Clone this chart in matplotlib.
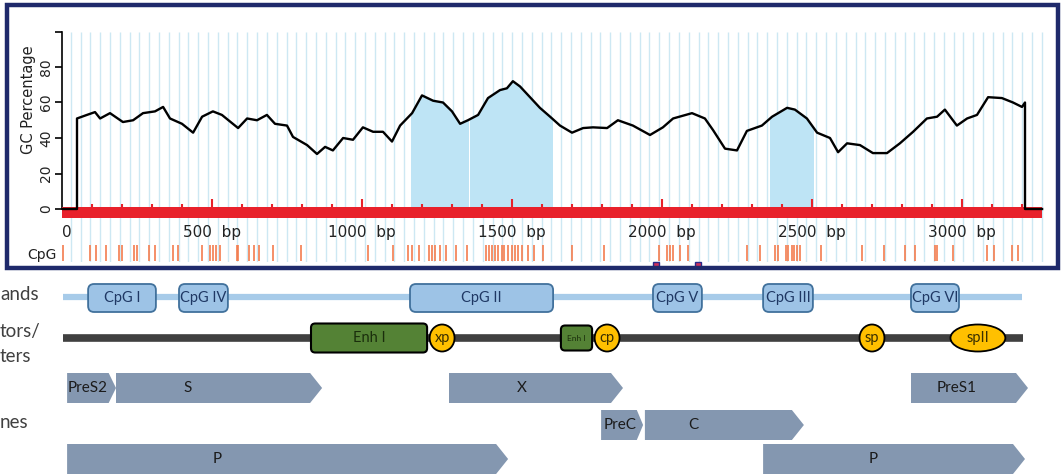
import matplotlib
matplotlib.use("Agg")
import matplotlib.pyplot as plt
import numpy as np
from matplotlib.patches import Rectangle, Polygon, Ellipse, FancyBboxPatch

# GC profile: (position bp, GC %)
gc_profile = [
    (0, 0), (50, 0), (50, 51), (83, 53), (110, 54.6), (127, 51), (160, 54), (203, 49),
    (237, 50), (270, 54), (310, 55), (337, 57.5), (360, 51), (400, 48), (437, 43),
    (467, 52), (503, 55), (533, 53), (587, 45.6), (617, 51), (650, 50), (683, 53),
    (710, 48), (750, 47), (770, 40.6), (817, 36), (850, 31), (877, 35), (903, 33),
    (937, 40), (970, 39), (1003, 46), (1037, 43.5), (1070, 43.5), (1100, 38),
    (1127, 47), (1167, 54), (1200, 64), (1237, 61), (1270, 60), (1300, 55),
    (1327, 48), (1353, 50), (1387, 53), (1420, 62.5), (1460, 67), (1483, 68),
    (1503, 72), (1527, 69), (1560, 63), (1593, 57), (1627, 52), (1660, 47),
    (1700, 43), (1737, 45.6), (1770, 46), (1817, 45.6), (1853, 50), (1903, 47),
    (1960, 41.7), (2003, 46), (2037, 51), (2100, 54), (2143, 51), (2170, 44.5),
    (2210, 34), (2250, 33), (2283, 44), (2333, 47), (2367, 52), (2417, 57),
    (2443, 56), (2483, 51), (2517, 43), (2560, 40), (2587, 32), (2617, 37),
    (2660, 36), (2703, 31.5), (2750, 31.5), (2793, 37), (2837, 43.5), (2883, 51),
    (2917, 52), (2943, 56), (2983, 47), (3017, 51), (3050, 53), (3087, 63),
    (3133, 62.5), (3170, 60), (3200, 57.5), (3210, 60), (3210, 0), (3267, 0),
]
gc_pos = [p for p, _ in gc_profile]
gc_val = [v for _, v in gc_profile]

islands = [(1163, 1353), (1360, 1633), (2360, 2503)]

cpg_sites = [3, 93, 113, 147, 190, 200, 240, 250, 290, 310, 370, 387, 467, 493, 503,
             513, 527, 583, 586, 623, 640, 657, 703, 797, 1020, 1103, 1153, 1167, 1190,
             1223, 1233, 1243, 1260, 1280, 1313, 1350, 1413, 1423, 1433, 1443, 1453,
             1467, 1473, 1487, 1500, 1510, 1520, 1533, 1553, 1573, 1603, 1700, 1807,
             1990, 2017, 2027, 2037, 2060, 2087, 2283, 2327, 2377, 2387, 2413, 2420,
             2433, 2440, 2450, 2460, 2530, 2667, 2740, 2810, 2843, 2910, 2917, 2970,
             3083, 3107, 3167, 3187]
motif_marks = [1980, 2120]

genome_len = 3267
bp_ticks = list(range(0, 3001, 500))

# genome map
cpg_names = ["CpG I", "CpG IV", "CpG II", "CpG V", "CpG III", "CpG VI"]
cpg_start = [87, 390, 1160, 1970, 2337, 2830]
cpg_end = [313, 553, 1637, 2133, 2503, 2990]

enh_names = ["Enh I", "Enh I"]
enh_start = [830, 1663]
enh_end = [1217, 1767]

prom_names = ["xp", "cp", "sp", "spII"]
prom_center = [1267, 1817, 2700, 3053]
prom_width = [83, 83, 83, 183]

gene_names = ["PreS2", "S", "X", "PreS1", "PreC", "C", "P", "P"]
gene_start = [17, 180, 1290, 2830, 1797, 1943, 17, 2337]
gene_end = [180, 867, 1870, 3220, 1937, 2473, 1487, 3210]
gene_row = [0, 0, 0, 0, 1, 1, 2, 2]
gene_label_x = [87, 420, 1533, 2983, 1860, 2103, 517, 2703]

W, H = 1062, 475
fig = plt.figure(figsize=(W / 100, H / 100), dpi=100)


def px_box(l, t, r, b):
    return [l / W, 1 - b / H, (r - l) / W, (b - t) / H]


# ---- GC plot ----
ax = fig.add_axes(px_box(62, 31.5, 1052, 262.25))
ax.set_xlim(0, 3300)
ax.set_ylim(-30, 100)

ax.vlines(np.arange(29, 3270, 32.7), -30.5, 100, color="#cde8f3", lw=1, zorder=0)

for a, b in islands:
    poly = ax.fill_between(gc_pos, 0, gc_val, color="#bee4f5", lw=0, zorder=1)
    poly.set_clip_path(Rectangle((a, -5), b - a, 110, transform=ax.transData))

ax.add_patch(Rectangle((0, -5.1), genome_len, 6.2, color="#e8212b", lw=0, zorder=4))
tk = np.arange(100, 3201, 100)
ax.vlines(tk, 0, np.where(tk % 500 == 0, 5.6, 2.8), color="#e8212b", lw=1.5, zorder=4)

ax.plot(gc_pos, gc_val, color="black", lw=1.7, zorder=5)

for t in bp_ticks:
    if t == 0:
        ax.text(t, -13, "0", ha="left", va="center", fontsize=11, color="#222222")
    else:
        ax.text(t, -13, f"{t}  bp", ha="center", va="center", fontsize=11, color="#222222")

ax.vlines(cpg_sites, -29.3, -20.3, color="#f47c4e", lw=1.2, zorder=2)
ax.plot(motif_marks, [-31.3] * len(motif_marks), "s", ms=4, mfc="#d0305a",
        mec="#2a2a8a", mew=1, clip_on=False, zorder=7)

for s in ["top", "right", "bottom"]:
    ax.spines[s].set_visible(False)
ax.spines["left"].set_bounds(0, 100)
ax.spines["left"].set_linewidth(1.2)
ax.set_xticks([])
ax.set_yticks(range(0, 101, 20))
ax.set_yticklabels(["0", "20", "40", "60", "80", ""])
ax.tick_params(axis="y", length=5, width=1.2, labelsize=10, pad=1.5, labelcolor="#222222")
for lab in ax.get_yticklabels():
    lab.set_rotation(90)
    lab.set_va("center")
ax.patch.set_alpha(0)

fig.text(28 / W, 1 - 100 / H, "GC Percentage", rotation=90, ha="center", va="center",
         fontsize=10.5, color="#222222")
fig.text(42 / W, 1 - 255 / H, "CpG", ha="center", va="center", fontsize=10, color="#222222")

fig.add_artist(Rectangle((7 / W, 1 - 268 / H), 1051 / W, 263 / H, transform=fig.transFigure,
                         fill=False, ec="#1f2a6b", lw=3.2, zorder=10))

# ---- genome map ----
ax2 = fig.add_axes(px_box(62, 270, 1052, 475))
ax2.set_xlim(0, 3300)
ax2.set_ylim(475, 270)
ax2.axis("off")

map_font = "Lato"
ax2.plot([3, 3200], [297, 297], color="#a7cbe9", lw=4.5, solid_capstyle="butt", zorder=1)
for name, a, b in zip(cpg_names, cpg_start, cpg_end):
    ax2.add_patch(FancyBboxPatch((a, 284), b - a, 28, boxstyle="round,pad=0,rounding_size=20",
                                 mutation_aspect=0.3, fc="#9dc3e6", ec="#41719c", lw=1.3, zorder=2))
    ax2.text((a + b) / 2, 298, name, ha="center", va="center", fontsize=10.5,
             color="#1f3864", family=map_font, zorder=3)

ax2.plot([3, 3203], [338, 338], color="#404040", lw=5.5, solid_capstyle="butt", zorder=1)
for i, (name, a, b) in enumerate(zip(enh_names, enh_start, enh_end)):
    h = 29 if i == 0 else 25
    ax2.add_patch(FancyBboxPatch((a, 338 - h / 2), b - a, h, boxstyle="round,pad=0,rounding_size=14",
                                 mutation_aspect=0.3, fc="#548235", ec="black", lw=1.5, zorder=2))
    ax2.text((a + b) / 2, 338, name, ha="center", va="center", fontsize=10.5 if i == 0 else 6,
             color="#1a2e0c", family=map_font, zorder=3)
for name, c, w in zip(prom_names, prom_center, prom_width):
    ax2.add_patch(Ellipse((c, 338), w, 27, fc="#ffc000", ec="black", lw=1.3, zorder=4))
    ax2.text(c, 338, name, ha="center", va="center", fontsize=10.5, color="#3a3000",
             family=map_font, zorder=5)

row_y = [388, 425, 459]
for name, a, b, r, lx in zip(gene_names, gene_start, gene_end, gene_row, gene_label_x):
    y = row_y[r]
    tip = min(40, 0.15 * (b - a))
    pts = [(a, y - 15), (b - tip, y - 15), (b, y), (b - tip, y + 15), (a, y + 15)]
    ax2.add_patch(Polygon(pts, closed=True, fc="#8497b0", ec="none", zorder=2))
    ax2.text(lx, y, name, ha="center", va="center", fontsize=11, color="#1b1b1b",
             family=map_font, zorder=3)

side_labels = ["ands", "tors/", "ters", "nes"]
side_y = [295, 332, 356, 422]
for txt, y in zip(side_labels, side_y):
    fig.text(0, 1 - y / H, txt, ha="left", va="center", fontsize=13.5, color="#404040",
             family=map_font)

fig.savefig("out.png", dpi=100)
